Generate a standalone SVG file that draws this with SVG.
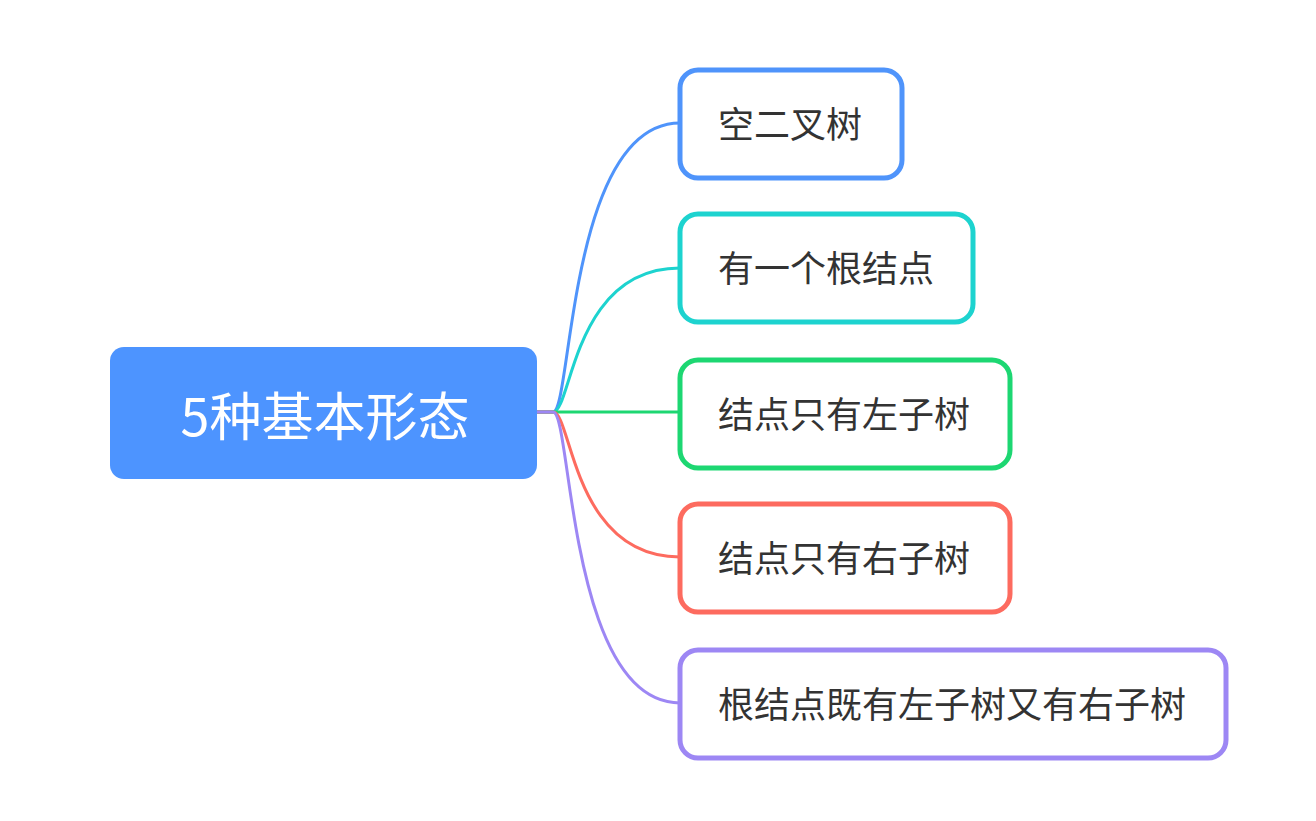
<svg xmlns="http://www.w3.org/2000/svg" width="1316" height="821" viewBox="0 0 1316 821">
<style>
.t{font-family:"Noto Sans CJK SC","Noto Sans",sans-serif;font-size:36px;fill:#333333}
.n{fill:#ffffff;stroke-width:5}
.c{fill:none;stroke-width:3}
</style>
<rect width="1316" height="821" fill="#ffffff"/>
<g id="connectors">
<path class="c" stroke="#4f94fb" d="M537,412 H553 C572,412 568,123 680,123"/>
<path class="c" stroke="#1dd3cf" d="M537,412 H553 C572,412 572,268 680,268"/>
<path class="c" stroke="#1dd772" d="M537,412 H680"/>
<path class="c" stroke="#fd6b5f" d="M537,412 H553 C572,412 572,557 680,557"/>
<path class="c" stroke="#9d87f4" d="M537,412 H553 C572,412 568,703 680,703"/>
</g>
<g id="root">
<rect x="110" y="347" width="427" height="132" rx="14" fill="#4d94ff"/>
<text x="325" y="436" text-anchor="middle" style="font-family:'Noto Sans CJK SC','Noto Sans',sans-serif;font-size:52px;fill:#ffffff">5种基本形态</text>
</g>
<g id="n1">
<rect class="n" x="680" y="70" width="222" height="108" rx="18" stroke="#4f94fb"/>
<text class="t" x="718" y="138">空二叉树</text>
</g>
<g id="n2">
<rect class="n" x="680" y="214" width="293" height="108" rx="18" stroke="#1dd3cf"/>
<text class="t" x="718" y="282">有一个根结点</text>
</g>
<g id="n3">
<rect class="n" x="680" y="360" width="330" height="108" rx="18" stroke="#1dd772"/>
<text class="t" x="718" y="428">结点只有左子树</text>
</g>
<g id="n4">
<rect class="n" x="680" y="504" width="330" height="108" rx="18" stroke="#fd6b5f"/>
<text class="t" x="718" y="572">结点只有右子树</text>
</g>
<g id="n5">
<rect class="n" x="680" y="650" width="546" height="108" rx="18" stroke="#9d87f4"/>
<text class="t" x="718" y="718">根结点既有左子树又有右子树</text>
</g>
</svg>
